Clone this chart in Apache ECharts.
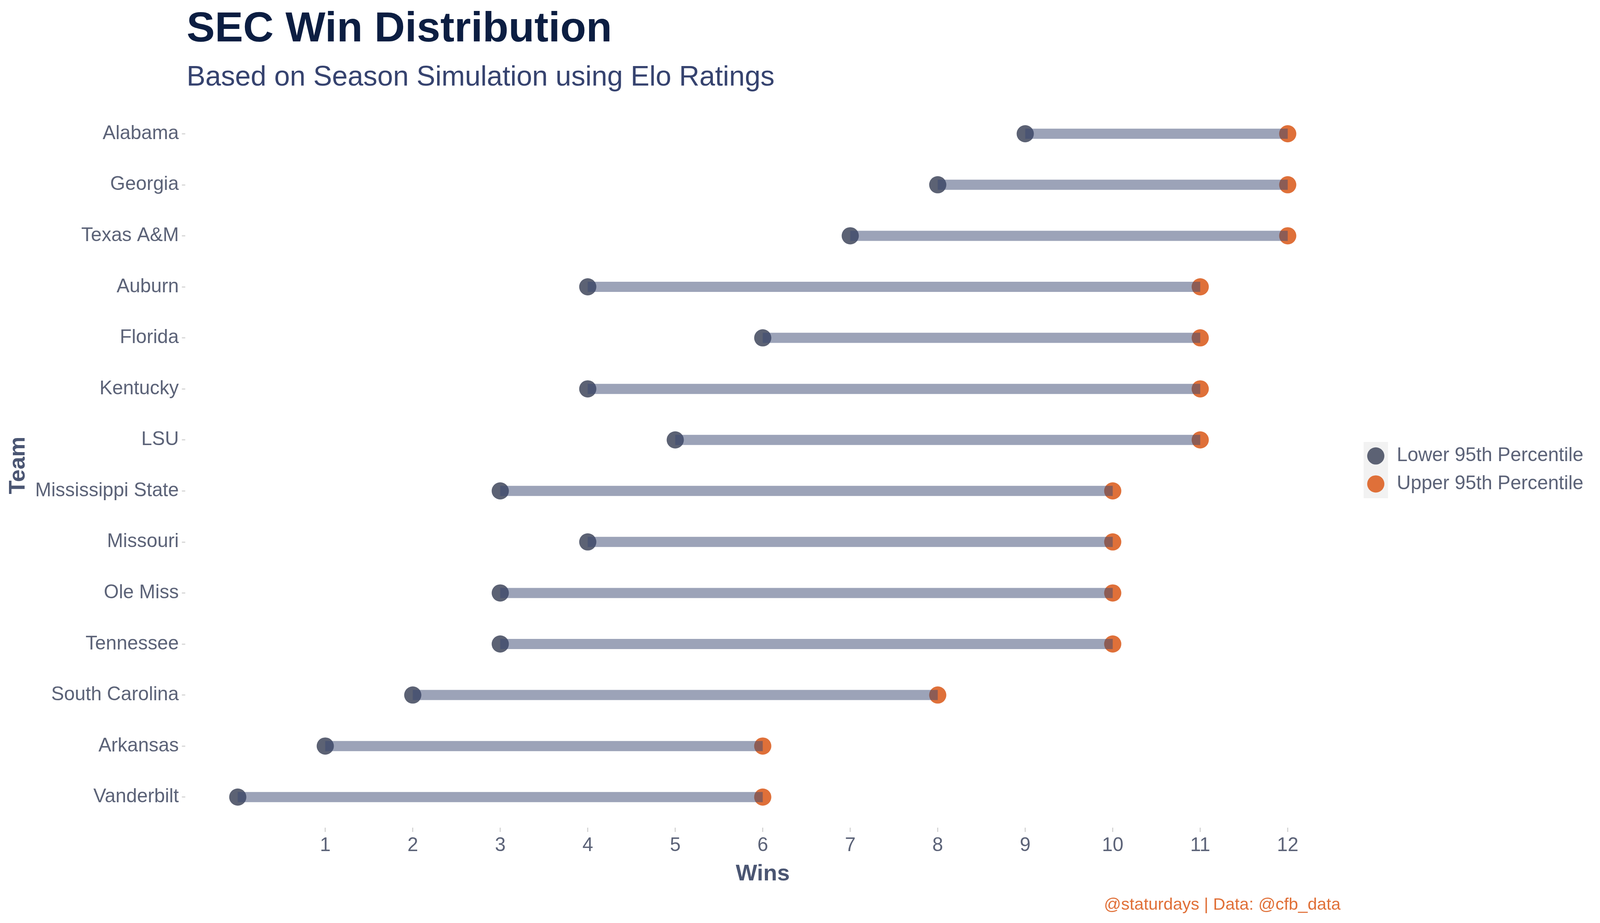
<!DOCTYPE html>
<html>
<head>
<meta charset="utf-8">
<script src="https://cdn.jsdelivr.net/npm/echarts@6/dist/echarts.min.js"></script>
<style>
  html, body { margin: 0; padding: 0; background: #ffffff; overflow: hidden; }
  #main { width: 100vw; height: 100vh; }
</style>
</head>
<body>
<div id="main"></div>
<script>
// teams, top to bottom
var teams = ['Alabama', 'Georgia', 'Texas A&M', 'Auburn', 'Florida', 'Kentucky', 'LSU',
    'Mississippi State', 'Missouri', 'Ole Miss', 'Tennessee', 'South Carolina', 'Arkansas', 'Vanderbilt'];
var lowerWins = [9, 8, 7, 4, 6, 4, 5, 3, 4, 3, 3, 2, 1, 0];
var upperWins = [12, 12, 12, 11, 11, 11, 11, 10, 10, 10, 10, 8, 6, 6];
var winTicks = [1, 2, 3, 4, 5, 6, 7, 8, 9, 10, 11, 12];

var FONT = '"Liberation Sans", Arial, sans-serif';
var labelColor = '#5c6378';
var axisNameColor = '#4b5673';

var dom = document.getElementById('main');
var W = dom.clientWidth, H = dom.clientHeight;
// layout was measured on a 4724x2362 frame; the window may be narrower
var sx = W / 4724, sy = H / 2362;
function X(v) { return v * sx; }
function Y(v) { return v * sy; }
function F(v) { return Math.round(v * Math.min(sx, sy) * 10) / 10; }
var BASE = 0.8465; // baseline offset below text-box top, as fraction of font size

var dot = Math.round(47 * Math.sqrt(sx * sy));
var legendFont = F(57);
var legendRow = Math.max(dot, legendFont);
var legendLeft = X(4062) - dot / 2;

var chart = echarts.init(dom, null, { renderer: 'canvas', devicePixelRatio: 1 });

var option = {
    backgroundColor: '#ffffff',
    animation: false,
    textStyle: { fontFamily: FONT },
    title: [{
        text: 'SEC Win Distribution',
        left: X(551), top: Y(114) - BASE * F(125), padding: 0,
        textStyle: { fontFamily: FONT, fontSize: F(125), fontWeight: 'bold', color: '#0c1e42' }
    }, {
        text: 'Based on Season Simulation using Elo Ratings',
        left: X(551), top: Y(224) - BASE * F(83), padding: 0,
        textStyle: { fontFamily: FONT, fontSize: F(83), fontWeight: 'normal', color: '#36436f' }
    }, {
        text: '@staturdays | Data: @cfb_data',
        right: W - X(3958), top: Y(2331) - BASE * F(50), padding: 0,
        textStyle: { fontFamily: FONT, fontSize: F(50), fontWeight: 'normal', color: '#e07038' }
    }],
    graphic: [{
        type: 'rect',
        z: 1,
        shape: { x: X(4026), y: Y(1131), width: X(72), height: Y(144) },
        style: { fill: '#f2f2f2' }
    }],
    legend: {
        orient: 'vertical',
        left: legendLeft, top: Y(1167) - legendRow / 2,
        padding: 0,
        itemWidth: dot, itemHeight: dot,
        itemGap: Y(72) - legendRow,
        icon: 'circle',
        data: ['Lower 95th Percentile', 'Upper 95th Percentile'],
        textStyle: {
            fontFamily: FONT, fontSize: legendFont, color: labelColor,
            padding: [0, 0, 0, X(4124) - (legendLeft + dot) - 5]
        }
    },
    grid: { left: X(547), right: W - X(3957), top: Y(277), bottom: H - Y(2105), containLabel: false },
    xAxis: {
        type: 'value',
        min: -0.6, max: 12.6,
        offset: Y(13),
        name: 'Wins',
        nameLocation: 'middle',
        nameGap: Y(2257) - BASE * F(67) - Y(2118),
        nameTextStyle: { fontFamily: FONT, fontSize: F(67), fontWeight: 'bold', color: axisNameColor },
        splitLine: { show: false },
        axisLine: { show: false },
        axisTick: { show: true, length: Y(11), customValues: winTicks, lineStyle: { color: '#d6d6d6', width: 3 } },
        axisLabel: {
            show: true, customValues: winTicks,
            margin: Y(2182) - BASE * F(57) - Y(2118),
            fontFamily: FONT, fontSize: F(57), color: labelColor
        }
    },
    yAxis: {
        type: 'category',
        data: teams,
        inverse: true,
        name: 'Team',
        nameLocation: 'middle',
        nameGap: X(547) - X(49) - 0.58 * F(67),
        nameTextStyle: { fontFamily: FONT, fontSize: F(67), fontWeight: 'bold', color: axisNameColor },
        splitLine: { show: false },
        axisLine: { show: false, onZero: false },
        axisTick: { show: true, alignWithLabel: true, length: X(10), lineStyle: { color: '#d6d6d6', width: 3 } },
        axisLabel: { margin: X(19), fontFamily: FONT, fontSize: F(57), color: labelColor }
    },
    series: [{
        name: 'Lower 95th Percentile',
        type: 'scatter',
        symbol: 'circle',
        symbolSize: dot,
        z: 2,
        itemStyle: { color: '#5c6274', opacity: 1 },
        data: lowerWins.map(function (v, i) { return [v, i]; })
    }, {
        name: 'Upper 95th Percentile',
        type: 'scatter',
        symbol: 'circle',
        symbolSize: dot,
        z: 2,
        itemStyle: { color: '#df7039', opacity: 1 },
        data: upperWins.map(function (v, i) { return [v, i]; })
    }, {
        name: 'range',
        type: 'custom',
        z: 3,
        encode: { x: [0, 1], y: 2 },
        renderItem: function (params, api) {
            var start = api.coord([api.value(0), api.value(2)]);
            var end = api.coord([api.value(1), api.value(2)]);
            return {
                type: 'line',
                shape: { x1: start[0], y1: start[1], x2: end[0], y2: end[1] },
                style: { stroke: 'rgba(57,71,113,0.5)', lineWidth: Y(26), lineCap: 'butt' }
            };
        },
        data: teams.map(function (t, i) { return [lowerWins[i], upperWins[i], i]; })
    }]
};

chart.setOption(option);
</script>
</body>
</html>
